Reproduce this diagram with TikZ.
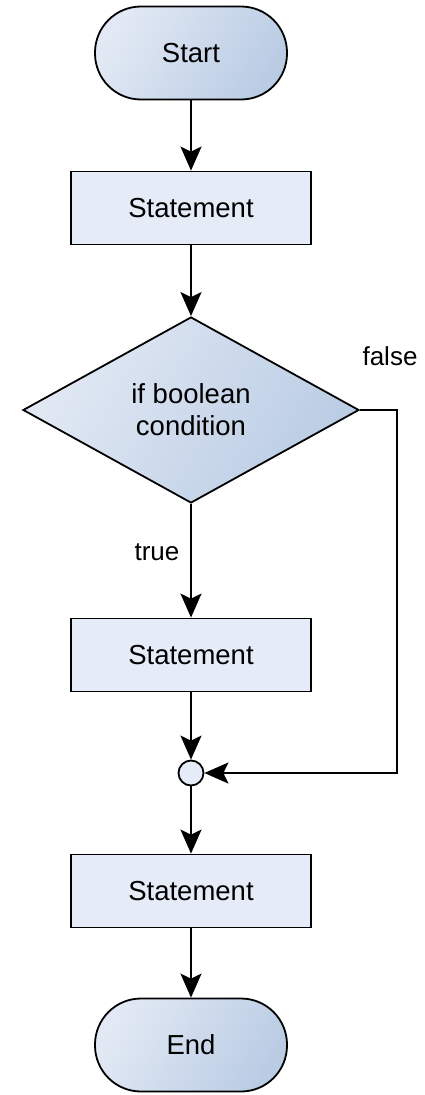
\documentclass[tikz,border=0pt]{standalone}
\usepackage{fontspec}
\setmainfont{Liberation Sans}
\usetikzlibrary{shapes.geometric,arrows.meta}
\definecolor{boxfill}{HTML}{E5ECF7}
\definecolor{gradA}{HTML}{E2E9F4}
\definecolor{gradB}{HTML}{BACCE4}
\tikzset{
  base/.style={draw=black, line width=1.8pt, font=\fontsize{27.5}{32}\selectfont, align=center},
  terminal/.style={base, rectangle, rounded corners=46pt, minimum width=192pt, minimum height=93pt, left color=gradA, right color=gradB, shading angle=60},
  stmt/.style={base, rectangle, minimum width=240pt, minimum height=73pt, fill=boxfill},
  decision/.style={base, diamond, aspect=1.806, inner sep=0pt, minimum width=336pt, minimum height=186pt, left color=gradA, right color=gradB, shading angle=60},
  joint/.style={draw=black, line width=1.8pt, circle, minimum size=25pt, inner sep=0pt, fill=boxfill},
  conn/.style={line width=1.8pt, -{Stealth[length=24pt,width=21pt,inset=5pt]}},
  lbl/.style={font=\fontsize{26}{30}\selectfont}
}
\begin{document}
\begin{tikzpicture}[x=1pt,y=-1pt]
\useasboundingbox (0,0) rectangle (424,1095);
\node[terminal] (start) at (191,53) {Start};
\node[stmt] (s1) at (191,208) {Statement};
\node[decision] (cond) at (191,410) {if boolean\\condition};
\node[stmt] (s2) at (191,655) {Statement};
\node[joint] (j) at (191,773) {};
\node[stmt] (s3) at (191,891) {Statement};
\node[terminal] (end) at (191,1045) {End};
\coordinate (fc) at (397,410);
\node[lbl] (tlbl) at (157,552) {true};
\node[lbl] (flbl) at (390,356) {false};
\draw[conn] (start) -- (s1);
\draw[conn] (s1) -- (cond);
\draw[conn] (cond) -- (s2);
\draw[conn] (s2) -- (j);
\draw[conn] (cond.east) -- (fc) |- (j);
\draw[conn] (j) -- (s3);
\draw[conn] (s3) -- (end);
\end{tikzpicture}
\end{document}
